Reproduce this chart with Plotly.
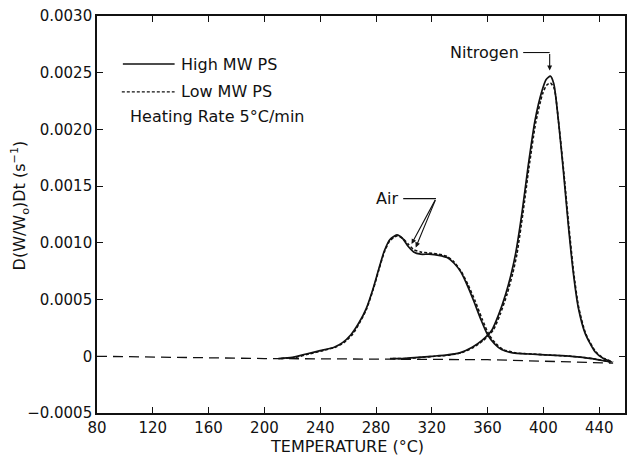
import plotly.graph_objects as go

# ---- data ----
air_high_x = [210, 220, 230, 240, 250, 256, 262, 268, 273, 278, 282, 286, 290, 295, 299, 303, 307, 312, 318, 325, 331, 336, 341, 346, 350, 355, 360, 365, 370, 378, 390, 405, 420, 435, 448]
air_high_y = [-0.00002, -0.00001, 0.00002, 0.00005, 0.00008, 0.00012, 0.00019, 0.00030, 0.00042, 0.00060, 0.00077, 0.00093, 0.00103, 0.00107, 0.00104, 0.00097, 0.00092, 0.00090, 0.00090, 0.00089, 0.00087, 0.00082, 0.00074, 0.00061, 0.00049, 0.00033, 0.00019, 0.00011, 0.00006, 0.00003, 0.00002, 0.00001, 0.0, -0.00002, -0.00005]

air_low_x = [212, 222, 232, 242, 251, 257, 263, 268, 273, 278, 282, 286, 290, 295, 299, 303, 307, 312, 318, 325, 331, 336, 341, 346, 351, 356, 361, 366, 371, 380, 392, 405, 420, 435, 448]
air_low_y = [-0.00002, -0.00001, 0.00002, 0.00005, 0.00008, 0.00012, 0.00019, 0.00029, 0.00041, 0.00059, 0.00076, 0.00092, 0.00102, 0.00106, 0.00104, 0.00099, 0.00094, 0.00092, 0.00091, 0.00090, 0.00088, 0.00083, 0.00075, 0.00063, 0.00049, 0.00033, 0.00019, 0.00011, 0.00006, 0.00003, 0.00002, 0.00001, 0.0, -0.00002, -0.00005]

n2_high_x = [290, 300, 310, 320, 330, 340, 349, 356, 363, 368, 373, 377, 380, 384.6, 389, 394, 399, 402, 405, 407.5, 411, 414.5, 418, 421.5, 425, 430, 437, 443, 449]
n2_high_y = [-0.00002, -0.00002, -0.00001, 0.0, 0.00001, 0.00003, 0.00008, 0.00014, 0.00023, 0.00037, 0.00055, 0.00073, 0.00090, 0.00126, 0.00167, 0.00208, 0.00234, 0.00244, 0.00247, 0.00240, 0.00205, 0.00161, 0.00114, 0.00073, 0.00043, 0.00020, 0.00004, -0.00002, -0.00005]

n2_low_x = [292, 302, 312, 322, 332, 341, 350, 357, 364, 369, 374, 378, 381, 385.3, 389.6, 394.5, 399.3, 402.3, 405, 407.8, 411.2, 414.8, 418.3, 421.8, 425.3, 430.3, 437.5, 443.5, 450]
n2_low_y = [-0.00002, -0.00002, -0.00001, 0.0, 0.00001, 0.00003, 0.00008, 0.00014, 0.00023, 0.00037, 0.00055, 0.00073, 0.00090, 0.00126, 0.00166, 0.00206, 0.00231, 0.00239, 0.00241, 0.00236, 0.00203, 0.00160, 0.00114, 0.00073, 0.00043, 0.00020, 0.00004, -0.00002, -0.00005]

base_x = [80, 200, 360, 450]
base_y = [0.0, -0.00002, -0.00003, -0.00006]

x_ticks = [80, 120, 160, 200, 240, 280, 320, 360, 400, 440]
y_ticks = [-0.0005, 0.0, 0.0005, 0.0010, 0.0015, 0.0020, 0.0025, 0.0030]
y_ticktext = ["\u22120.0005", "0", "0.0005", "0.0010", "0.0015", "0.0020", "0.0025", "0.0030"]

FONT = "DejaVu Sans"
BLACK = "#111111"

fig = go.Figure()
fig.add_trace(go.Scatter(x=base_x, y=base_y, mode="lines", name="baseline",
                         line=dict(color=BLACK, width=1.3, dash="10px,6px")))
fig.add_trace(go.Scatter(x=air_low_x, y=air_low_y, mode="lines", name="Low MW PS (air)",
                         line=dict(color=BLACK, width=1.6, dash="3px,2px", shape="spline", smoothing=0.6)))
fig.add_trace(go.Scatter(x=n2_low_x, y=n2_low_y, mode="lines", name="Low MW PS (nitrogen)",
                         line=dict(color=BLACK, width=1.6, dash="3px,2px", shape="spline", smoothing=0.6)))
fig.add_trace(go.Scatter(x=air_high_x, y=air_high_y, mode="lines", name="High MW PS (air)",
                         line=dict(color=BLACK, width=1.7, shape="spline", smoothing=0.6)))
fig.add_trace(go.Scatter(x=n2_high_x, y=n2_high_y, mode="lines", name="High MW PS (nitrogen)",
                         line=dict(color=BLACK, width=1.7, shape="spline", smoothing=0.6)))

axis_common = dict(showline=True, linecolor=BLACK, linewidth=1.6, mirror="ticks",
                   ticks="inside", ticklen=6, tickwidth=1.4, tickcolor=BLACK,
                   showgrid=False, zeroline=False,
                   tickfont=dict(family=FONT, size=15, color=BLACK))

fig.update_xaxes(range=[80, 458.5], tickvals=x_ticks, **axis_common)
fig.update_yaxes(range=[-0.0005, 0.0030], tickvals=y_ticks, ticktext=y_ticktext, **axis_common)

shapes = [
    # legend samples
    dict(type="line", xref="paper", yref="paper", x0=0.049, x1=0.147, y0=0.879, y1=0.879,
         line=dict(color=BLACK, width=1.6)),
    dict(type="line", xref="paper", yref="paper", x0=0.047, x1=0.147, y0=0.809, y1=0.809,
         line=dict(color=BLACK, width=1.3, dash="3px,2px")),
    # leader lines
    dict(type="line", xref="x", yref="y", x0=385.5, x1=404.5, y0=0.002678, y1=0.002678,
         line=dict(color=BLACK, width=1.1)),
    dict(type="line", xref="x", yref="y", x0=299.5, x1=323, y0=0.00139, y1=0.00139,
         line=dict(color=BLACK, width=1.1)),
]

annotations = [
    dict(text="High MW PS", xref="paper", yref="paper", x=0.155, y=0.879, xanchor="left", yanchor="middle",
         showarrow=False, font=dict(family=FONT, size=16, color=BLACK)),
    dict(text="Low MW PS", xref="paper", yref="paper", x=0.155, y=0.809, xanchor="left", yanchor="middle",
         showarrow=False, font=dict(family=FONT, size=16, color=BLACK)),
    dict(text="Heating Rate 5°C/min", xref="paper", yref="paper", x=0.058, y=0.746, xanchor="left",
         yanchor="middle", showarrow=False, font=dict(family=FONT, size=16, color=BLACK)),
    dict(text="Nitrogen", xref="x", yref="y", x=384, y=0.002678, xanchor="right", yanchor="middle",
         showarrow=False, font=dict(family=FONT, size=16, color=BLACK)),
    dict(text="Air", xref="x", yref="y", x=297.5, y=0.00139, xanchor="right", yanchor="middle",
         showarrow=False, font=dict(family=FONT, size=16, color=BLACK)),
    # arrows
    dict(text="", xref="x", yref="y", axref="x", ayref="y", x=404.5, y=0.00252, ax=404.5, ay=0.002678,
         showarrow=True, arrowhead=2, arrowsize=0.9, arrowwidth=1.1, arrowcolor=BLACK, standoff=0,
         font=dict(family=FONT, size=10, color=BLACK)),
    dict(text="", xref="x", yref="y", axref="x", ayref="y", x=305.5, y=0.00099, ax=323, ay=0.00139,
         showarrow=True, arrowhead=2, arrowsize=0.9, arrowwidth=1.1, arrowcolor=BLACK, standoff=0,
         font=dict(family=FONT, size=10, color=BLACK)),
    dict(text="", xref="x", yref="y", axref="x", ayref="y", x=308.5, y=0.00096, ax=323, ay=0.00139,
         showarrow=True, arrowhead=2, arrowsize=0.9, arrowwidth=1.1, arrowcolor=BLACK, standoff=0,
         font=dict(family=FONT, size=10, color=BLACK)),
    # axis titles
    dict(text="TEMPERATURE (°C)", xref="paper", yref="paper", x=0.474, y=-0.084, xanchor="center",
         yanchor="middle", showarrow=False, font=dict(family=FONT, size=16, color=BLACK)),
    dict(text="D(W/W<sub>o</sub>)Dt (s<sup>\u22121</sup>)", xref="paper", yref="paper", x=-0.145, y=0.524,
         xanchor="center", yanchor="middle", textangle=-90, showarrow=False,
         font=dict(family=FONT, size=16, color=BLACK)),
]

fig.update_layout(
    width=630, height=462,
    margin=dict(l=97, r=3, t=16, b=49),
    paper_bgcolor="white", plot_bgcolor="white",
    showlegend=False,
    shapes=shapes, annotations=annotations,
    font=dict(family=FONT, color=BLACK),
)

fig.write_html("out.html")
